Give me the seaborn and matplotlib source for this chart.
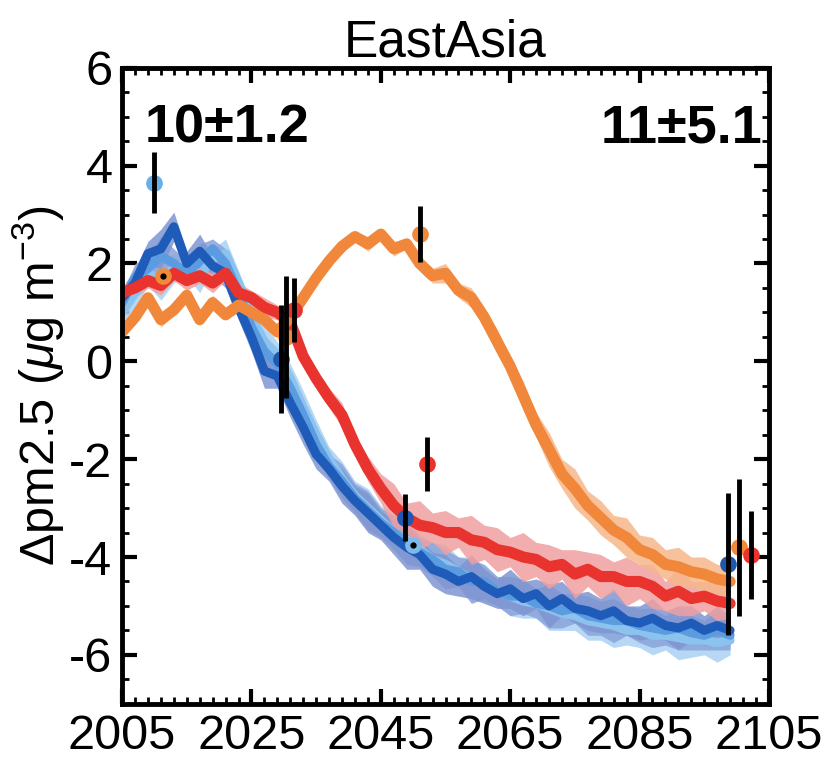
import numpy as np
import pandas as pd
import matplotlib
matplotlib.use("Agg")
import matplotlib.pyplot as plt
import seaborn as sns

# ---------------- data ----------------
years = list(range(2005, 2101, 2))  # 48 values, 2005..2099

dark_blue = [1.3, 1.6, 2.2, 2.3, 2.75, 2.0, 2.25, 1.95, 1.8, 1.1, 0.5, -0.2, -0.3, -0.85, -1.35, -1.9,
             -2.2, -2.55, -2.85, -3.1, -3.35, -3.6, -3.8, -3.95, -4.25, -4.35, -4.5, -4.4, -4.6, -4.75,
             -4.65, -4.85, -4.75, -5.0, -4.85, -5.05, -5.1, -5.2, -5.1, -5.3, -5.35, -5.25, -5.4, -5.45,
             -5.35, -5.5, -5.4, -5.5]
mid_blue = [1.2, 1.7, 1.9, 2.15, 2.0, 1.8, 2.05, 2.3, 2.0, 1.4, 0.7, 0.2, -0.05, -0.55, -1.1, -1.7,
            -2.15, -2.45, -2.8, -3.05, -3.3, -3.5, -3.7, -3.9, -4.05, -4.25, -4.3, -4.5, -4.5, -4.7,
            -4.8, -4.8, -4.95, -5.0, -5.1, -5.05, -5.2, -5.25, -5.3, -5.3, -5.4, -5.45, -5.5, -5.45,
            -5.55, -5.6, -5.5, -5.6]
light_blue = [1.0, 1.4, 1.8, 1.65, 1.9, 2.0, 1.75, 2.1, 2.2, 1.6, 0.9, 0.4, 0.15, -0.35, -0.95, -1.5,
              -2.0, -2.4, -2.75, -3.0, -3.25, -3.5, -3.65, -3.85, -4.05, -4.15, -4.3, -4.45, -4.55, -4.7,
              -4.8, -4.9, -4.95, -5.05, -5.15, -5.2, -5.3, -5.35, -5.4, -5.5, -5.5, -5.6, -5.6, -5.65,
              -5.7, -5.7, -5.75, -5.7]
red = [1.4, 1.5, 1.65, 1.55, 1.8, 1.65, 1.75, 1.6, 1.8, 1.4, 1.3, 1.1, 1.0, 0.8, 0.1, -0.35,
       -0.75, -1.1, -1.7, -2.2, -2.6, -2.95, -3.2, -3.35, -3.4, -3.5, -3.5, -3.65, -3.7, -3.85,
       -3.9, -4.0, -4.05, -4.2, -4.15, -4.35, -4.25, -4.4, -4.4, -4.5, -4.5, -4.6, -4.8, -4.7,
       -4.85, -4.8, -4.9, -4.95]
orange = [0.6, 0.9, 1.3, 0.85, 1.05, 1.35, 0.85, 1.2, 0.95, 1.15, 1.0, 0.85, 0.6, 0.9, 1.3, 1.7,
          2.05, 2.35, 2.55, 2.4, 2.6, 2.3, 2.4, 2.0, 1.75, 1.8, 1.45, 1.3, 0.9, 0.4,
          -0.1, -0.7, -1.3, -1.8, -2.3, -2.6, -2.95, -3.2, -3.45, -3.6, -3.85, -3.95, -4.15, -4.2,
          -4.3, -4.35, -4.45, -4.5]

# band half-widths
blue_spread = [0.2, 0.3, 0.25, 0.4, 0.3, 0.25, 0.35, 0.2, 0.3, 0.25, 0.3, 0.35, 0.25, 0.3, 0.35, 0.3,
               0.25, 0.35, 0.3, 0.4, 0.3, 0.35, 0.45, 0.3, 0.35, 0.4, 0.3, 0.45, 0.35, 0.3,
               0.4, 0.35, 0.3, 0.45, 0.35, 0.3, 0.4, 0.35, 0.45, 0.3, 0.35, 0.4, 0.3, 0.45,
               0.35, 0.3, 0.4, 0.3]
red_spread = [0.15, 0.2, 0.15, 0.2, 0.15, 0.2, 0.15, 0.2, 0.15, 0.2, 0.15, 0.2, 0.15, 0.2, 0.15, 0.2,
              0.2, 0.25, 0.2, 0.25, 0.3, 0.45, 0.3, 0.5, 0.3, 0.45, 0.3, 0.5, 0.35, 0.45,
              0.3, 0.5, 0.35, 0.45, 0.3, 0.5, 0.35, 0.45, 0.3, 0.5, 0.35, 0.45, 0.3, 0.5,
              0.35, 0.3, 0.4, 0.3]
orange_spread = [0.1, 0.15, 0.1, 0.15, 0.1, 0.15, 0.1, 0.15, 0.1, 0.15, 0.1, 0.15, 0.1, 0.15, 0.1, 0.15,
                 0.1, 0.15, 0.1, 0.15, 0.1, 0.15, 0.1, 0.15, 0.15, 0.2, 0.15, 0.2, 0.2, 0.25,
                 0.2, 0.3, 0.25, 0.35, 0.3, 0.4, 0.3, 0.35, 0.3, 0.4, 0.3, 0.35, 0.3, 0.4,
                 0.3, 0.35, 0.3, 0.3]

# observation / model points with error bars
pt_x = [2010.0, 2011.3, 2029.6, 2030.4, 2031.5, 2048.8, 2050.0, 2052.2, 2051.1, 2098.6, 2100.3, 2102.2]
pt_y = [3.65, 1.75, 0.05, 0.5, 1.05, -3.2, -3.75, -2.1, 2.6, -4.15, -3.8, -3.95]
pt_err = [0.62, 0.0, 1.1, 1.25, 0.65, 0.48, 0.0, 0.55, 0.58, 1.45, 1.4, 0.9]
pt_col = ["#6aaee6", "#f08a3a", "#2058b0", "#f08a3a", "#e8332e", "#2058b0", "#7fb8ea",
          "#e8332e", "#f08a3a", "#2058b0", "#f08a3a", "#e8332e"]

labels_left = "10\u00b11.2"
labels_right = "11\u00b15.1"
x_ticks = [2005, 2025, 2045, 2065, 2085, 2105]
y_ticks = [-6, -4, -2, 0, 2, 4, 6]

# ---------------- plotting ----------------
sns.set_style("ticks")
plt.rcParams['font.family'] = ['Liberation Sans', 'DejaVu Sans']
plt.rcParams['mathtext.fontset'] = 'custom'
plt.rcParams['mathtext.rm'] = 'Liberation Sans'
plt.rcParams['mathtext.it'] = 'Liberation Sans:italic'
plt.rcParams['axes.unicode_minus'] = False
for k in ['text.color', 'axes.labelcolor', 'xtick.color', 'ytick.color', 'axes.edgecolor']:
    plt.rcParams[k] = 'black'

fig = plt.figure(figsize=(8.25, 7.7), dpi=100)
ax = fig.add_axes([0.148, 0.086, 0.784, 0.826])

yrs = np.array(years)
series = [
    ("light", light_blue, blue_spread, "#a9d2f3", "#8cc3ee"),
    ("mid", mid_blue, blue_spread, "#8aa3da", "#5b9be0"),
    ("dark", dark_blue, blue_spread, "#7f95d2", "#1f5bb8"),
    ("red", red, red_spread, "#f0a0a0", "#e8332e"),
    ("orange", orange, orange_spread, "#f6b88a", "#f0873a"),
]
for name, vals, spread, bcol, lcol in series:
    v = np.array(vals)
    s = np.array(spread)
    ax.fill_between(yrs, v - s, v + s, color=bcol, lw=0, alpha=0.85)
for name, vals, spread, bcol, lcol in series:
    df = pd.DataFrame({"year": years, "val": vals})
    lw = 8 if name in ("red", "orange") else 6.5
    sns.lineplot(data=df, x="year", y="val", ax=ax, color=lcol, lw=lw,
                 solid_joinstyle="round", solid_capstyle="round")

for x, y, e, c in zip(pt_x, pt_y, pt_err, pt_col):
    if e > 0:
        ax.errorbar([x], [y], yerr=[e], fmt="none", ecolor="black", elinewidth=3.5, capsize=0, zorder=5)
    ax.plot([x], [y], "o", color=c, ms=12, mec="none", zorder=4)
ax.plot([2011.3, 2050.0], [1.75, -3.75], "o", color="black", ms=3.5, zorder=6)

ax.set_xlim(2005, 2105)
ax.set_ylim(-7, 6)
ax.set_xticks(x_ticks)
ax.set_xticklabels([str(t) for t in x_ticks])
ax.set_yticks(y_ticks)
ax.set_yticklabels([str(t) for t in y_ticks])
ax.set_xticks(np.arange(2005, 2106, 2), minor=True)
ax.set_yticks(np.arange(-7, 6.01, 0.5), minor=True)
ax.tick_params(which="major", direction="in", length=11, width=3, top=True, right=True,
               labelsize=35, pad=7, colors="black")
ax.tick_params(which="minor", direction="in", length=5, width=2, top=True, right=True, colors="black")
for sp in ax.spines.values():
    sp.set_linewidth(3.5)
    sp.set_visible(True)
    sp.set_color("black")

ax.set_xlabel("")
ax.set_ylabel(r"$\Delta$pm2.5 ($\mu$g m$^{-3}$)", fontsize=35, labelpad=2, color="black")
ax.set_title("EastAsia", fontsize=37, pad=6, color="black")

ax.text(2008.5, 4.75, labels_left, fontsize=39, fontweight="bold", ha="left", va="center", color="black")
ax.text(2104.0, 4.75, labels_right, fontsize=39, fontweight="bold", ha="right", va="center", color="black")

fig.savefig("out.png", dpi=100)
